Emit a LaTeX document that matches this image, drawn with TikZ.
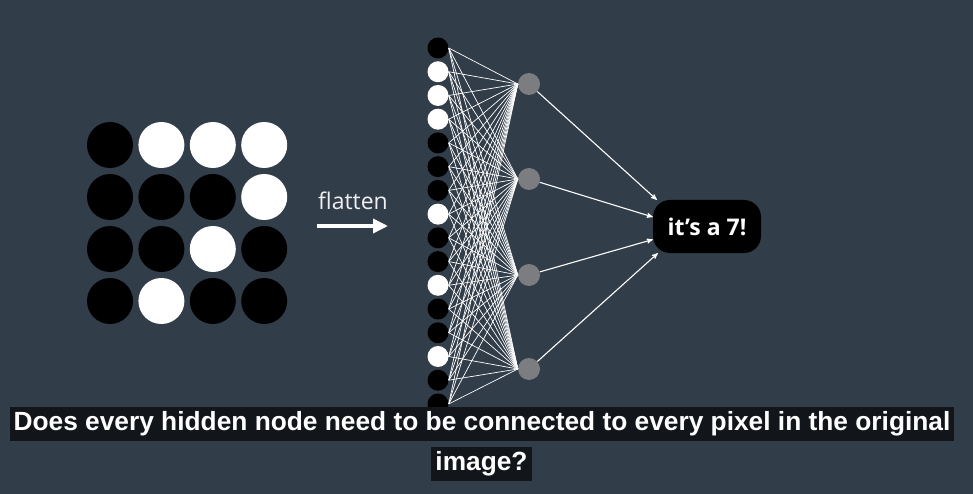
\documentclass[tikz,border=0pt]{standalone}
\usepackage{fontspec}
\setmainfont{Open Sans}
\newfontfamily\capfont{Liberation Sans}
\usetikzlibrary{arrows, arrows.meta}
\definecolor{slate}{RGB}{50,61,74}
\definecolor{hidgray}{RGB}{124,125,128}
\definecolor{capbg}{RGB}{18,21,26}
\tikzset{
>=stealth',
  pixel/.style={circle, minimum size=46pt, inner sep=0pt},
  innode/.style={circle, minimum size=21pt, inner sep=0pt},
  px0/.style={fill=black},
  px1/.style={fill=white},
  hidnode/.style={circle, fill=hidgray, minimum size=22pt, inner sep=0pt},
  outnode/.style={
    rectangle,
    rounded corners=17pt,
    fill=black,
    text=white,
    minimum width=108pt,
    minimum height=53pt,
    font=\fontsize{23}{27}\selectfont\bfseries},
  link/.style={draw=white, line width=0.7pt},
  feed/.style={draw=white, line width=1.1pt, ->},
  capbox/.style={
    fill=capbg,
    text=white,
    inner xsep=4pt, inner ysep=4.5pt,
    text height=19pt, text depth=6pt,
    font=\capfont\fontsize{26.3}{30}\selectfont\bfseries},
}
\begin{document}
\begin{tikzpicture}[x=1pt, y=-1pt]
     \fill[slate] (0,0) rectangle (973,494);
     \useasboundingbox (0,0) rectangle (973,494);
     % image grid and flattened column
     \foreach \v [count=\k from 0] in {0,1,1,1,0,0,0,1,0,0,1,0,0,1,0,0} {
       \pgfmathtruncatemacro\prow{\k/4}
       \pgfmathtruncatemacro\pcol{mod(\k,4)}
       \node[pixel, px\v] (p\k) at (110+51.4*\pcol, 145+52*\prow) {};
       \node[innode, px\v] (i\k) at (438, 48+23.73*\k) {};
     }
     \node[font=\fontsize{23}{27}\selectfont, text=white!92!slate] (flat) at (353,201) {flatten};
     \coordinate (fa) at (317,226);
     \coordinate (fb) at (388,226);
     \draw[white, line width=3.5pt, -{Triangle[length=15pt, width=14pt]}] (fa) -- (fb);
     % hidden layer
     \foreach \y [count=\j] in {84,179,275,369}
       \node[hidnode] (h\j) at (529,\y) {};
     \foreach \k in {0,...,15}
       \foreach \j in {1,...,4}
         \draw[link] (i\k.east) -- (h\j.west);
     \node[outnode] (out) at (707,226.5) {it’s a 7!};
     \draw[feed] (h1) -- ([xshift=4pt]out.north west);
     \draw[feed] (h2) -- ([yshift=9.5pt]out.west);
     \draw[feed] (h3) -- ([yshift=-13pt]out.west);
     \draw[feed] (h4) -- ([xshift=5pt]out.south west);
     % subtitle
     \node[capbox] (cap1) at (482,424) {Does every hidden node need to be connected to every pixel in the original};
     \node[capbox] (cap2) at (481.5,464) {image?};
\end{tikzpicture}
\end{document}
